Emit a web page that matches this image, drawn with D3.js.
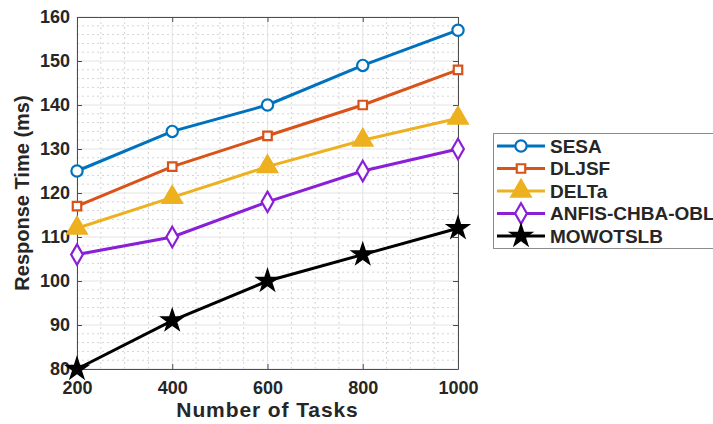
<!DOCTYPE html>
<html>
<head>
<meta charset="utf-8">
<script src="https://cdn.jsdelivr.net/npm/d3@7"></script>
<style>
  body { margin: 0; background: #fff; }
  svg { display: block; font-family: "Liberation Sans", Arial, sans-serif; font-weight: bold; }
</style>
</head>
<body>
<svg width="713" height="424"></svg>
<script>
(function () {
  'use strict';

  // data
  var tasks = [200, 400, 600, 800, 1000];
  var sesa = [125, 134, 140, 149, 157];
  var dljsf = [117, 126, 133, 140, 148];
  var delta = [112, 119, 126, 132, 137];
  var anfis = [106, 110, 118, 125, 130];
  var mowotslb = [80, 91, 100, 106, 112];
  var names = ["SESA", "DLJSF", "DELTa", "ANFIS-CHBA-OBL", "MOWOTSLB"];
  var xTicks = [200, 400, 600, 800, 1000];
  var yTicks = [80, 90, 100, 110, 120, 130, 140, 150, 160];

  var seriesVals = [sesa, dljsf, delta, anfis, mowotslb];
  var colors = ["#0072BD", "#D95319", "#EDB120", "#8A1FD8", "#000000"];
  var markers = ["circle", "square", "triangle", "diamond", "star"];

  var svg = d3.select("svg");
  var m = { left: 77, right: 458, top: 17, bottom: 369 };

  var x = d3.scaleLinear().domain([200, 1000]).range([m.left, m.right]);
  var y = d3.scaleLinear().domain([80, 160]).range([m.bottom, m.top]);

  //minor grid (dotted)
  var grid = svg.append("g");
  grid.selectAll("line.mx")
    .data(d3.range(200, 1001, 50).filter(function(d) { return d % 200 !== 0; }))
    .enter().append("line")
      .attr("x1", function(d) { return x(d); }).attr("x2", function(d) { return x(d); })
      .attr("y1", m.top).attr("y2", m.bottom)
      .attr("stroke", "#d4d4d4").attr("stroke-width", 1).attr("stroke-dasharray", "2,3");
  grid.selectAll("line.my")
    .data(d3.range(80, 161, 2).filter(function(d) { return d % 10 !== 0; }))
    .enter().append("line")
      .attr("y1", function(d) { return y(d); }).attr("y2", function(d) { return y(d); })
      .attr("x1", m.left).attr("x2", m.right)
      .attr("stroke", "#d4d4d4").attr("stroke-width", 1).attr("stroke-dasharray", "2,3");

  //major grid
  grid.selectAll("line.gx").data(xTicks).enter().append("line")
      .attr("x1", function(d) { return x(d); }).attr("x2", function(d) { return x(d); })
      .attr("y1", m.top).attr("y2", m.bottom)
      .attr("stroke", "#e3e3e3").attr("stroke-width", 1);
  grid.selectAll("line.gy").data(yTicks).enter().append("line")
      .attr("y1", function(d) { return y(d); }).attr("y2", function(d) { return y(d); })
      .attr("x1", m.left).attr("x2", m.right)
      .attr("stroke", "#e3e3e3").attr("stroke-width", 1);

  //axes, ticks pointing inward
  var xAxis = svg.append("g").attr("transform", "translate(0," + m.bottom + ")")
      .call(d3.axisBottom(x).tickValues(xTicks).tickFormat(d3.format("d"))
        .tickSizeInner(-5).tickSizeOuter(0).tickPadding(12));
  var yAxis = svg.append("g").attr("transform", "translate(" + m.left + ",0)")
      .call(d3.axisLeft(y).tickValues(yTicks).tickFormat(d3.format("d"))
        .tickSizeInner(-5).tickSizeOuter(0).tickPadding(7));
  svg.append("g").attr("transform", "translate(0," + m.top + ")")
      .call(d3.axisTop(x).tickValues(xTicks).tickSizeInner(-5).tickSizeOuter(0).tickFormat(""));
  svg.append("g").attr("transform", "translate(" + m.right + ",0)")
      .call(d3.axisRight(y).tickValues(yTicks).tickSizeInner(-5).tickSizeOuter(0).tickFormat(""));
  svg.selectAll(".domain, .tick line").attr("stroke", "#4d4d4d").attr("stroke-width", 1);
  svg.selectAll(".tick text").attr("fill", "#262626")
      .style("font-size", "18px").style("font-weight", "bold")
      .style("font-family", "'Liberation Sans', Arial, sans-serif");
  xAxis.selectAll(".tick text").attr("dy", "0.71em");

  //axis labels
  svg.append("text")
      .attr("x", (m.left + m.right) / 2).attr("y", 417)
      .attr("text-anchor", "middle").attr("fill", "#262626")
      .style("font-size", "21px").style("letter-spacing", "0.9px")
      .text("Number of Tasks");
  svg.append("text")
      .attr("transform", "translate(29," + ((m.top + m.bottom) / 2) + ") rotate(-90)")
      .attr("text-anchor", "middle").attr("fill", "#262626")
      .style("font-size", "20px")
      .text("Response Time (ms)");

  var symbolFor = {
    circle: d3.symbol().type(d3.symbolCircle).size(100),
    square: d3.symbol().type(d3.symbolSquare).size(72),
    triangle: d3.symbol().type(d3.symbolTriangle).size(160),
    diamond: d3.symbol().type(d3.symbolDiamond).size(120),
    star: d3.symbol().type(d3.symbolStar).size(120)
  };
  var filled = { circle: false, square: false, triangle: true, diamond: false, star: true };

  var line = d3.line()
      .x(function(d) { return x(d[0]); })
      .y(function(d) { return y(d[1]); });

  seriesVals.forEach(function(vals, i) {
    var pts = tasks.map(function(t, j) { return [t, vals[j]]; });
    var g = svg.append("g");
    g.append("path").datum(pts)
        .attr("d", line).attr("fill", "none")
        .attr("stroke", colors[i]).attr("stroke-width", 3);
    g.selectAll("path.mk").data(pts).enter().append("path")
        .attr("transform", function(d) { return "translate(" + x(d[0]) + "," + y(d[1]) + ")"; })
        .attr("d", symbolFor[markers[i]])
        .attr("fill", filled[markers[i]] ? colors[i] : "#fff")
        .attr("stroke", colors[i]).attr("stroke-width", 2.2);
  });

  //legend
  var legend = svg.append("g");
  legend.append("rect")
      .attr("x", 493.5).attr("y", 133.5).attr("width", 240).attr("height", 115)
      .attr("fill", "#fff").attr("stroke", "#8c8c8c").attr("stroke-width", 1);
  names.forEach(function(name, i) {
    var ly = 146 + i * 22.5;
    legend.append("line")
        .attr("x1", 497).attr("x2", 545).attr("y1", ly).attr("y2", ly)
        .attr("stroke", colors[i]).attr("stroke-width", 3);
    legend.append("path")
        .attr("transform", "translate(521," + ly + ")")
        .attr("d", symbolFor[markers[i]])
        .attr("fill", filled[markers[i]] ? colors[i] : "#fff")
        .attr("stroke", colors[i]).attr("stroke-width", 2.2);
    legend.append("text")
        .attr("x", 550).attr("y", ly).attr("dy", "0.35em")
        .attr("fill", "#262626").style("font-size", "19px")
        .text(name);
  });
}());
</script>
</body>
</html>
